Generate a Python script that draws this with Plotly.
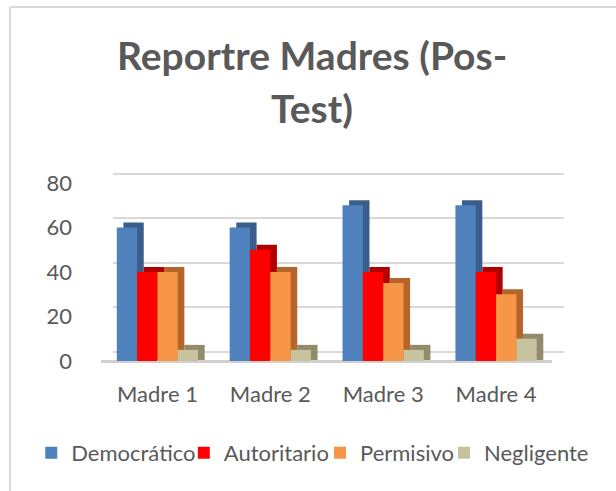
import plotly.graph_objects as go

categories = ["Madre 1", "Madre 2", "Madre 3", "Madre 4"]
series_names = ["Democrático", "Autoritario", "Permisivo", "Negligente"]
democratico = [60, 60, 70, 70]
autoritario = [40, 50, 40, 40]
permisivo = [40, 40, 35, 30]
negligente = [5, 5, 5, 10]
y_ticks = [0, 20, 40, 60, 80]
title_lines = ["Reportre Madres (Pos-", "Test)"]

series_values = [democratico, autoritario, permisivo, negligente]
front_colors = ["#4f81bd", "#ff0000", "#f79646", "#c9c29e"]
side_colors = ["#3b5d8c", "#b00000", "#b5652a", "#918b6c"]
legend_ids = ["legend", "legend2", "legend3", "legend4"]
legend_x = [-0.1405, 0.1855, 0.4765, 0.7415]

bar_w = 0.18          # width of one bar (category units)
depth_dx = 6.6 / 113  # 3D depth, right shift (category units)
depth_dy = 2.25       # 3D depth, upward shift (value units)
wall_dx = 12 / 113    # back wall shift relative to the front (category units)
wall_dy = 4.18        # back wall shift relative to the front (value units)

GRAY = "#595959"
FONT = "Lato, 'Open Sans', sans-serif"

fig = go.Figure()
# side / top faces of the 3D bars, on the back-wall subplot (drawn below the fronts)
for i, vals in enumerate(series_values):
    off = -2 * bar_w + i * bar_w
    fig.add_trace(go.Bar(
        x=categories, y=[v + depth_dy for v in vals], base=-wall_dy,
        width=bar_w, offset=off + depth_dx - wall_dx,
        marker=dict(color=side_colors[i], line=dict(width=0)), showlegend=False,
        hoverinfo="skip", xaxis="x", yaxis="y"))
# front faces
for i, (name, vals) in enumerate(zip(series_names, series_values)):
    off = -2 * bar_w + i * bar_w
    fig.add_trace(go.Bar(
        x=categories, y=vals, width=bar_w, offset=off, name=name,
        marker=dict(color=front_colors[i], line=dict(width=0)),
        xaxis="x2", yaxis="y2", legend=legend_ids[i]))

legends = {}
for lid, lx in zip(legend_ids, legend_x):
    legends[lid] = dict(x=lx, xanchor="left", y=-0.469, yanchor="middle",
                        orientation="h", font=dict(size=22, color=GRAY, family=FONT),
                        bgcolor="rgba(0,0,0,0)", itemwidth=30)

fig.update_layout(
    width=616, height=491,
    barmode="overlay",
    paper_bgcolor="white", plot_bgcolor="rgba(0,0,0,0)",
    margin=dict(l=97, r=51, t=165, b=130),
    font=dict(family=FONT, color=GRAY, size=22),
    showlegend=True,
    # back wall (gridlines + bar depth faces)
    xaxis=dict(domain=[0.03419, 0.99893], visible=False, range=[-0.5, 3.5]),
    yaxis=dict(domain=[0, 1], range=[-wall_dy, -wall_dy + 196 / 2.225], tickvals=y_ticks,
               showgrid=True, gridcolor="#d9d9d9", gridwidth=2, zeroline=False,
               showticklabels=False, ticks="", anchor="x"),
    # front (bar faces, tick labels)
    xaxis2=dict(domain=[0.00855, 0.97329], anchor="y2", showgrid=False, showline=False,
                ticks="", ticklabelstandoff=18, range=[-0.5, 3.5],
                tickfont=dict(size=22, color=GRAY)),
    yaxis2=dict(domain=[0, 0.90816], anchor="x2", range=[0, 80], tickvals=y_ticks,
                showgrid=False, zeroline=True, zerolinecolor="#d0d0d0", zerolinewidth=3,
                ticks="", ticklabelstandoff=28, tickfont=dict(size=22, color=GRAY)),
    annotations=[
        dict(text="<b>%s</b>" % title_lines[0], x=0.459, y=1.56, xref="paper", yref="paper",
             xanchor="center", yanchor="middle", showarrow=False,
             font=dict(size=39, color=GRAY, family=FONT)),
        dict(text="<b>%s</b>" % title_lines[1], x=0.459, y=1.291, xref="paper", yref="paper",
             xanchor="center", yanchor="middle", showarrow=False,
             font=dict(size=39, color=GRAY, family=FONT)),
    ],
    shapes=[
        dict(type="line", xref="paper", yref="paper", x0=-0.186, x1=1.2, y0=1.806, y1=1.806,
             line=dict(color="#d9d9d9", width=2)),
        dict(type="line", xref="paper", yref="paper", x0=-0.186, x1=-0.186, y0=1.806, y1=-0.75,
             line=dict(color="#d9d9d9", width=2)),
    ],
    **legends,
)
fig.write_html("out.html", config={"displayModeBar": False},
               post_script="document.body.style.margin='0';")
